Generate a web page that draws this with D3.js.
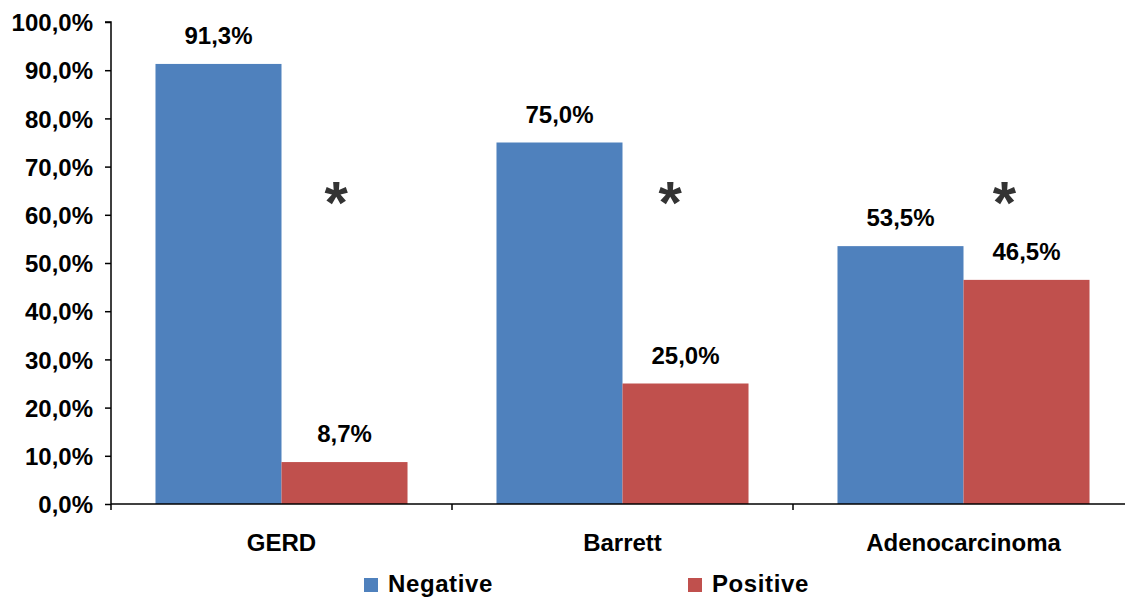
<!DOCTYPE html>
<html>
<head>
<meta charset="utf-8">
<script src="https://cdn.jsdelivr.net/npm/d3@7"></script>
<style>
  html, body { margin: 0; padding: 0; background: #fff; }
  svg { display: block; font-family: "Liberation Sans", Arial, sans-serif; font-weight: bold; }
</style>
</head>
<body>
<svg id="chart" width="1125" height="600"></svg>
<script>
// Share of negative / positive cases per diagnosis group (percent)
const categories = ["GERD", "Barrett", "Adenocarcinoma"];
const seriesNames = ["Negative", "Positive"];
const negativeValues = [91.3, 75.0, 53.5];
const positiveValues = [8.7, 25.0, 46.5];
const yTicks = [0, 10, 20, 30, 40, 50, 60, 70, 80, 90, 100];
// significance markers: category, horizontal offset within the band (fraction), height (percent)
const markerCategories = ["GERD", "Barrett", "Adenocarcinoma"];
const markerOffsets = [0.66, 0.64, 0.62];
const markerLevels = [64.5, 64.5, 64.5];

const colors = { Negative: "#4F81BD", Positive: "#C0504D" };

const svg = d3.select("#chart");
const plotLeft = 111, plotRight = 1134, plotTop = 22, plotBottom = 504;

const x = d3.scaleBand().domain(categories).range([plotLeft, plotRight]).paddingInner(0).paddingOuter(0);
const inner = d3.scaleBand().domain(seriesNames).range([0, x.bandwidth()]).paddingOuter(0.353).paddingInner(0);
const y = d3.scaleLinear().domain([0, 100]).range([plotBottom, plotTop]);

const fmt = v => d3.format(".1f")(v).replace(".", ",") + "%";

const rows = categories.map((c, i) => ({ category: c, Negative: negativeValues[i], Positive: positiveValues[i] }));

// bars
const groups = svg.append("g").selectAll("g").data(rows).join("g")
  .attr("transform", d => `translate(${x(d.category)},0)`);

groups.selectAll("rect").data(d => seriesNames.map(s => ({ s, v: d[s] }))).join("rect")
  .attr("x", d => inner(d.s))
  .attr("y", d => y(d.v))
  .attr("width", inner.bandwidth())
  .attr("height", d => y(0) - y(d.v))
  .attr("fill", d => colors[d.s]);

// value labels
groups.selectAll("text.val").data(d => seriesNames.map(s => ({ s, v: d[s] }))).join("text")
  .attr("class", "val")
  .attr("x", d => inner(d.s) + inner.bandwidth() / 2)
  .attr("y", d => y(d.v) - 20)
  .attr("text-anchor", "middle")
  .attr("font-size", 24)
  .attr("fill", "#000")
  .text(d => fmt(d.v));

// y axis
const yAxis = d3.axisLeft(y).tickValues(yTicks).tickSize(6).tickPadding(12).tickFormat(fmt);
const gy = svg.append("g").attr("transform", `translate(${plotLeft},0)`).call(yAxis);
gy.select(".domain").attr("stroke", "#000").attr("stroke-width", 1.5).attr("d", `M-6,${plotTop}H0V${plotBottom}`);
gy.selectAll(".tick line").attr("stroke", "#000").attr("stroke-width", 1.5);
gy.selectAll(".tick text").attr("font-size", 24).attr("font-family", "Liberation Sans, Arial, sans-serif")
  .attr("font-weight", "bold").attr("fill", "#000").attr("dy", "0.36em");

// x axis line and boundary ticks
const gx = svg.append("g").attr("transform", `translate(0,${plotBottom})`);
gx.append("line").attr("x1", plotLeft).attr("x2", plotRight).attr("y1", 0).attr("y2", 0)
  .attr("stroke", "#000").attr("stroke-width", 1.5);
const boundaries = categories.map(c => x(c)).concat([x(categories[categories.length - 1]) + x.bandwidth()]);
gx.selectAll("line.tick").data(boundaries).join("line").attr("class", "tick")
  .attr("x1", d => d).attr("x2", d => d).attr("y1", 0).attr("y2", 6)
  .attr("stroke", "#000").attr("stroke-width", 1.5);
gx.selectAll("text").data(categories).join("text")
  .attr("x", d => x(d) + x.bandwidth() / 2)
  .attr("y", 47)
  .attr("text-anchor", "middle")
  .attr("font-size", 24)
  .attr("fill", "#000")
  .text(d => d);

// significance markers
svg.append("g").selectAll("text").data(markerCategories.map((c, i) => ({ c, o: markerOffsets[i], v: markerLevels[i] })))
  .join("text")
  .attr("x", d => x(d.c) + d.o * x.bandwidth())
  .attr("y", d => y(d.v))
  .attr("dy", "0.5em")
  .attr("text-anchor", "middle")
  .attr("font-size", 60)
  .attr("fill", "#333")
  .text("*");

// legend
const legendX = [364, 688];
const lg = svg.append("g").selectAll("g").data(seriesNames).join("g")
  .attr("transform", (d, i) => `translate(${legendX[i]},578)`);
lg.append("rect").attr("width", 14).attr("height", 14).attr("fill", d => colors[d]);
lg.append("text").attr("x", 24).attr("y", 14).attr("font-size", 24).attr("letter-spacing", 0.6)
  .attr("fill", "#000").text(d => d);
</script>
</body>
</html>
